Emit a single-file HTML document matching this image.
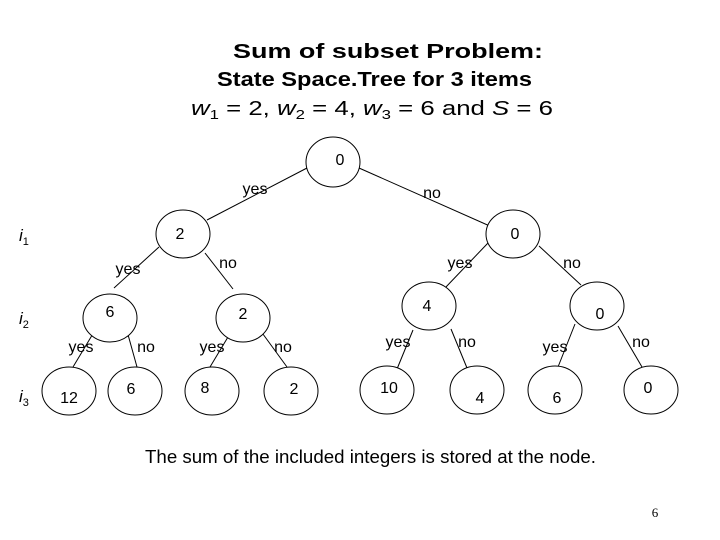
<!DOCTYPE html>
<html><head><meta charset="utf-8"><style>
html,body{margin:0;padding:0;background:#fff}
svg{display:block}
text{font-family:"Liberation Sans",Arial,sans-serif;fill:#000}
</style></head><body>
<svg width="720" height="540" viewBox="0 0 720 540" xmlns="http://www.w3.org/2000/svg">
<g font-size="20" font-weight="bold" text-anchor="start">
<text x="233" y="58" textLength="310" lengthAdjust="spacingAndGlyphs">Sum of subset  Problem:</text>
<text x="217" y="86" textLength="315" lengthAdjust="spacingAndGlyphs">State Space.Tree for 3 items</text>
</g>
<text x="191" y="115" font-size="20" textLength="362" lengthAdjust="spacingAndGlyphs"><tspan font-style="italic">w</tspan><tspan font-size="13" dy="4">1</tspan><tspan dy="-4"> = 2,   </tspan><tspan font-style="italic">w</tspan><tspan font-size="13" dy="4">2</tspan><tspan dy="-4"> = 4,  </tspan><tspan font-style="italic">w</tspan><tspan font-size="13" dy="4">3</tspan><tspan dy="-4"> = 6 and  </tspan><tspan font-style="italic">S</tspan><tspan> = 6</tspan></text>

<g stroke="#000" stroke-width="1" fill="none">
<line x1="307" y1="168" x2="207" y2="220"/>
<line x1="359" y1="168" x2="492" y2="227"/>
<line x1="159" y1="247" x2="114" y2="288"/>
<line x1="205" y1="253" x2="233" y2="289"/>
<line x1="488" y1="243" x2="445" y2="288"/>
<line x1="539" y1="246" x2="581" y2="285"/>
<line x1="94" y1="332" x2="73" y2="367"/>
<line x1="127" y1="331" x2="137" y2="367"/>
<line x1="228" y1="337" x2="210" y2="367"/>
<line x1="260" y1="330" x2="287" y2="367"/>
<line x1="413" y1="330" x2="397" y2="369"/>
<line x1="451" y1="329" x2="467" y2="368"/>
<line x1="575" y1="324" x2="558" y2="367"/>
<line x1="618" y1="326" x2="642" y2="367"/>
</g>
<g stroke="#000" stroke-width="1" fill="#fff">
<ellipse cx="333" cy="162" rx="27" ry="25"/>
<ellipse cx="183" cy="234" rx="27" ry="24"/>
<ellipse cx="513" cy="234" rx="27" ry="24"/>
<ellipse cx="110" cy="318" rx="27" ry="24"/>
<ellipse cx="243" cy="318" rx="27" ry="24"/>
<ellipse cx="429" cy="306" rx="27" ry="24"/>
<ellipse cx="597" cy="306" rx="27" ry="24"/>
<ellipse cx="69" cy="391" rx="27" ry="24"/>
<ellipse cx="135" cy="391" rx="27" ry="24"/>
<ellipse cx="212" cy="391" rx="27" ry="24"/>
<ellipse cx="291" cy="391" rx="27" ry="24"/>
<ellipse cx="387" cy="390" rx="27" ry="24"/>
<ellipse cx="477" cy="390" rx="27" ry="24"/>
<ellipse cx="555" cy="390" rx="27" ry="24"/>
<ellipse cx="651" cy="390" rx="27" ry="24"/>
</g>
<g font-size="16" text-anchor="middle">
<text x="340" y="165">0</text>
<text x="180" y="239">2</text>
<text x="515" y="239">0</text>
<text x="110" y="317">6</text>
<text x="243" y="319">2</text>
<text x="427" y="311">4</text>
<text x="600" y="319">0</text>
<text x="69" y="403">12</text>
<text x="131" y="394">6</text>
<text x="205" y="393">8</text>
<text x="294" y="394">2</text>
<text x="389" y="393">10</text>
<text x="480" y="403">4</text>
<text x="557" y="403">6</text>
<text x="648" y="393">0</text>
</g>
<g font-size="16" text-anchor="middle">
<text x="255" y="194">yes</text>
<text x="432" y="198">no</text>
<text x="128" y="274">yes</text>
<text x="228" y="268">no</text>
<text x="460" y="268">yes</text>
<text x="572" y="268">no</text>
<text x="81" y="352">yes</text>
<text x="146" y="352">no</text>
<text x="212" y="352">yes</text>
<text x="283" y="352">no</text>
<text x="398" y="347">yes</text>
<text x="467" y="347">no</text>
<text x="555" y="352">yes</text>
<text x="641" y="347">no</text>
</g>
<g font-size="17" font-style="italic">
<text x="19" y="241">i<tspan font-size="11" font-style="normal" dy="4">1</tspan></text>
<text x="19" y="324">i<tspan font-size="11" font-style="normal" dy="4">2</tspan></text>
<text x="19" y="402">i<tspan font-size="11" font-style="normal" dy="4">3</tspan></text>
</g>
<text x="145" y="463" font-size="18" textLength="451" lengthAdjust="spacingAndGlyphs">The sum of the included integers is stored at the node.</text>
<text x="655" y="517" font-size="13" text-anchor="middle" style="font-family:'Liberation Serif',serif">6</text>
</svg>
</body></html>
